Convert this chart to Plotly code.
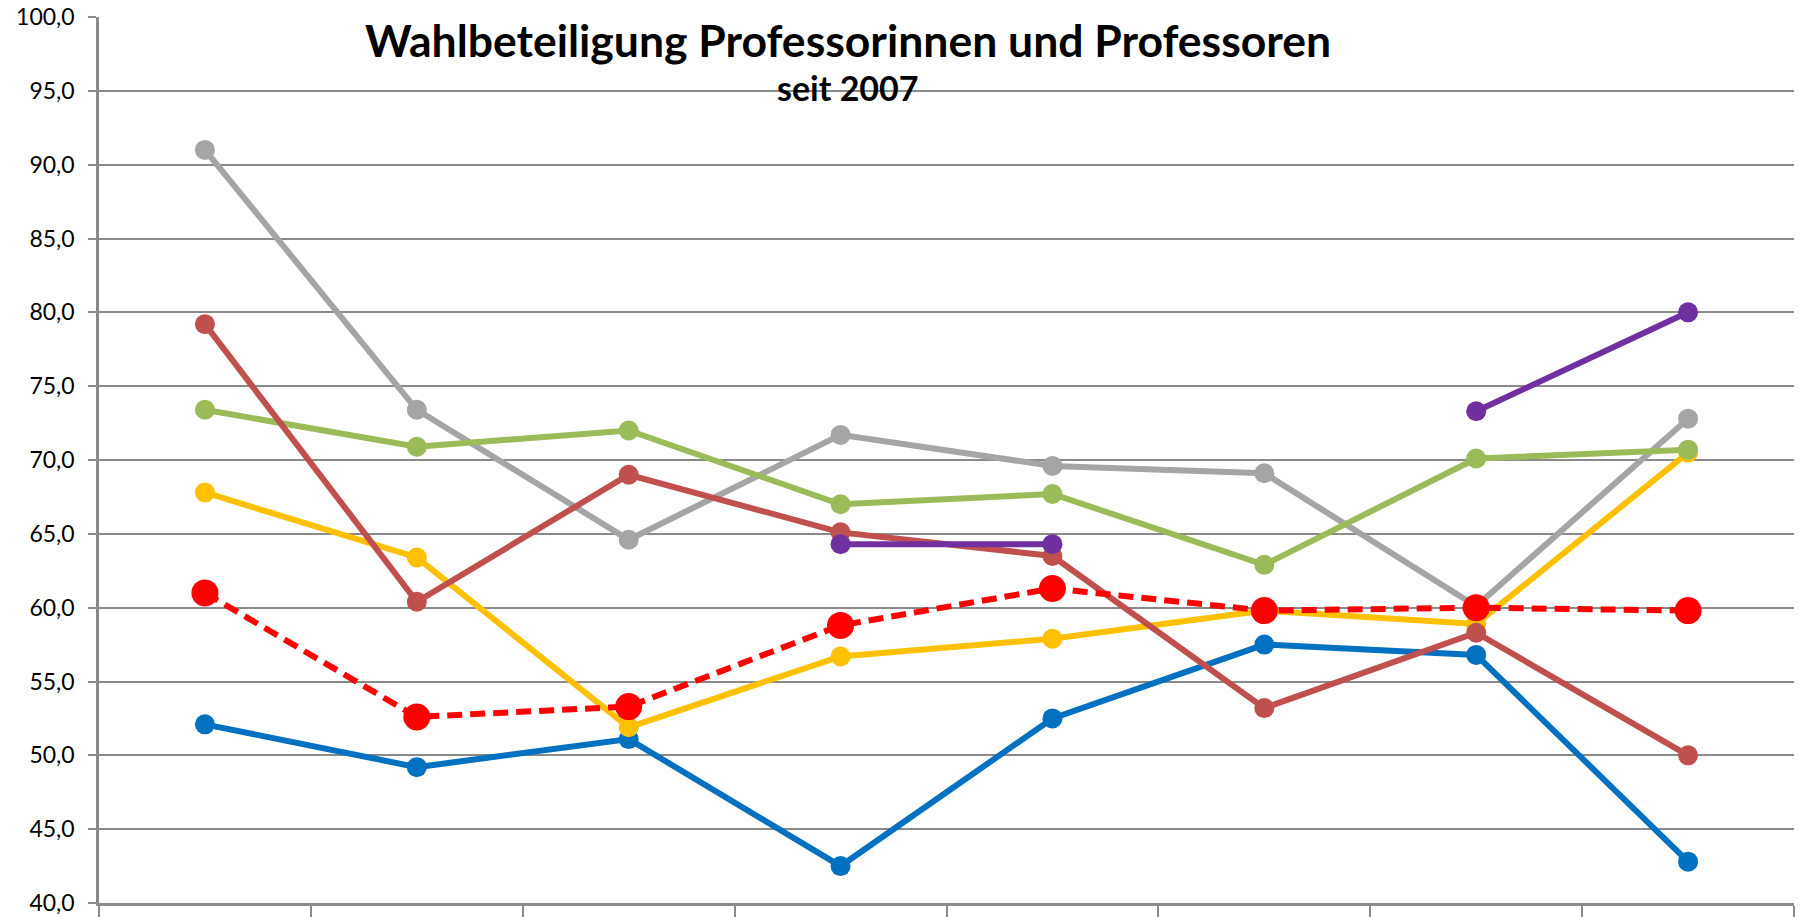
import plotly.graph_objects as go

years = ["2007", "2009", "2011", "2013", "2015", "2017", "2019", "2021"]

blue = [52.1, 49.2, 51.1, 42.5, 52.5, 57.5, 56.8, 42.8]
gray = [91.0, 73.4, 64.6, 71.7, 69.6, 69.1, 60.1, 72.8]
yellow = [67.8, 63.4, 51.9, 56.7, 57.9, 59.8, 58.9, 70.5]
green = [73.4, 70.9, 72.0, 67.0, 67.7, 62.9, 70.1, 70.7]
brown = [79.2, 60.4, 69.0, 65.1, 63.5, 53.2, 58.3, 50.0]
purple = [None, None, None, 64.3, 64.3, None, 73.3, 80.0]
average = [61.0, 52.6, 53.3, 58.8, 61.3, 59.8, 60.0, 59.8]

series = [
    ("Blau", blue, "#0070C0"),
    ("Grau", gray, "#A5A5A5"),
    ("Gelb", yellow, "#FFC000"),
    ("Grün", green, "#9BBB59"),
    ("Rot", brown, "#C0504D"),
    ("Lila", purple, "#7030A0"),
]

fig = go.Figure()
for name, vals, col in series:
    fig.add_trace(go.Scatter(
        x=years, y=vals, name=name, mode="lines+markers",
        line=dict(color=col, width=6),
        marker=dict(color=col, size=20, line=dict(width=0)),
        connectgaps=False,
    ))

fig.add_trace(go.Scatter(
    x=years, y=average, name="Gesamt", mode="lines+markers",
    line=dict(color="#FF0000", width=6, dash="15px,8px"),
    marker=dict(color="#FF0000", size=27, line=dict(width=0)),
))

grid = "#8A8A8A"
fig.update_layout(
    width=1795, height=909,
    margin=dict(l=91, r=9, t=9, b=14),
    paper_bgcolor="white", plot_bgcolor="white",
    showlegend=False,
    separators=",.",
    font=dict(family="Lato, Open Sans, sans-serif", color="#000000"),
    xaxis=dict(
        type="category", range=[-0.5, 7.5], automargin=False,
        tickson="boundaries", ticks="outside", ticklen=11, tickwidth=1.5,
        tickcolor=grid, showgrid=False, showline=True, linecolor=grid, linewidth=3,
        tickfont=dict(size=23, color="#000000"),
        ticklabeloverflow="allow",
    ),
    yaxis=dict(
        range=[40, 100], dtick=5, tickformat=".1f", automargin=False,
        ticks="outside", ticklen=8, tickwidth=1.5, tickcolor=grid,
        showgrid=True, gridcolor=grid, gridwidth=2,
        showline=True, linecolor=grid, linewidth=2.5, zeroline=False,
        tickfont=dict(size=23, color="#000000"),
        ticklabelstandoff=9, ticklabeloverflow="allow",
    ),
    annotations=[
        dict(text="<b>Wahlbeteiligung Professorinnen und Professoren</b>",
             xref="paper", yref="paper", x=0.4419, y=0.9744,
             xanchor="center", yanchor="middle", showarrow=False,
             font=dict(size=44.5, family="Lato, Open Sans, sans-serif", color="#000000")),
        dict(text="<b>seit 2007</b>",
             xref="paper", yref="paper", x=0.4419, y=0.9207,
             xanchor="center", yanchor="middle", showarrow=False,
             font=dict(size=34, family="Lato, Open Sans, sans-serif", color="#000000")),
    ],
)

fig.write_html("out.html")
